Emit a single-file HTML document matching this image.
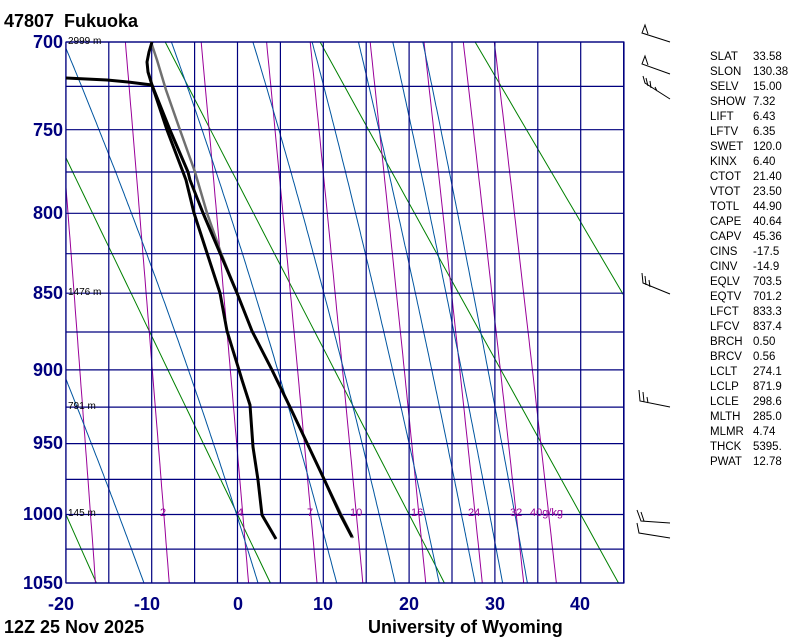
<!DOCTYPE html>
<html><head><meta charset="utf-8"><style>
html,body{margin:0;padding:0;background:#fff;}
body{width:800px;height:640px;position:relative;overflow:hidden;font-family:"Liberation Sans",sans-serif;}
.t{position:absolute;white-space:nowrap;}
.pl{position:absolute;left:0;width:63px;text-align:right;color:#00007f;font-weight:bold;font-size:18px;line-height:18px;}
.xl{position:absolute;top:595px;color:#00007f;font-weight:bold;font-size:18px;line-height:18px;}
.st{position:absolute;left:710px;font-size:11.5px;line-height:15px;color:#000;}
.st div{height:15px;}
.st span{display:inline-block;width:43px;}
</style></head><body>
<svg id="s" width="800" height="640" style="position:absolute;left:0;top:0">
<defs><clipPath id="c"><rect x="66" y="42" width="558" height="541"/></clipPath></defs>
<g id="g" clip-path="url(#c)"></g>
<g id="grid"></g>
<g id="snd"></g>
<g stroke="#000" stroke-width="1" fill="none">
<path d="M670 42 L642 33 L645 25 L648 34"/>
<path d="M670 74 L642 64 L645 56 L648 65"/>
<path d="M670 99 L645 83 L643 76 M648 86 L646 78 M651 88 L650 81 M657 91 L655 87"/>
<path d="M670 294 L643 283 L642 273 M646 285 L645 276 M650 287 L649 280"/>
<path d="M670 407 L640 401 L639 390 M644 402 L643 392 M648 403 L647 397"/>
<path d="M670 523 L641 521 L637 510 M644 521 L641 512"/>
<path d="M670 538 L639 533 L637 523"/>
</g>
</svg>
<div class="t" style="left:4px;top:11px;font-weight:bold;font-size:18px;">47807&nbsp; Fukuoka</div>
<div class="pl" style="top:33px">700</div>
<div class="pl" style="top:121px">750</div>
<div class="pl" style="top:204px">800</div>
<div class="pl" style="top:284px">850</div>
<div class="pl" style="top:361px">900</div>
<div class="pl" style="top:434px">950</div>
<div class="pl" style="top:505px">1000</div>
<div class="pl" style="top:574px">1050</div>
<div class="xl" style="left:48px">-20</div>
<div class="xl" style="left:134px">-10</div>
<div class="xl" style="left:233px">0</div>
<div class="xl" style="left:313px">10</div>
<div class="xl" style="left:399px">20</div>
<div class="xl" style="left:485px">30</div>
<div class="xl" style="left:570px">40</div>
<div class="t" style="left:4px;top:617px;font-weight:bold;font-size:18px;">12Z 25 Nov 2025</div>
<div class="t" style="left:368px;top:617px;font-weight:bold;font-size:18px;">University of Wyoming</div>
<div class="t" style="left:68px;top:36px;font-size:10px;">2999 m</div>
<div class="t" style="left:68px;top:287px;font-size:10px;">1476 m</div>
<div class="t" style="left:68px;top:401px;font-size:10px;">791 m</div>
<div class="t" style="left:68px;top:508px;font-size:10px;">145 m</div>
<div class="t" style="left:160px;top:507px;font-size:11px;color:#990099">2</div>
<div class="t" style="left:237px;top:507px;font-size:11px;color:#990099">4</div>
<div class="t" style="left:307px;top:507px;font-size:11px;color:#990099">7</div>
<div class="t" style="left:350px;top:507px;font-size:11px;color:#990099">10</div>
<div class="t" style="left:411px;top:507px;font-size:11px;color:#990099">16</div>
<div class="t" style="left:468px;top:507px;font-size:11px;color:#990099">24</div>
<div class="t" style="left:510px;top:507px;font-size:11px;color:#990099">32</div>
<div class="t" style="left:530px;top:507px;font-size:11px;color:#990099">40g/kg</div>
<div class="st" style="top:50px">
<div><span>SLAT</span>33.58</div><div><span>SLON</span>130.38</div><div><span>SELV</span>15.00</div>
<div><span>SHOW</span>7.32</div><div><span>LIFT</span>6.43</div><div><span>LFTV</span>6.35</div>
<div><span>SWET</span>120.0</div><div><span>KINX</span>6.40</div><div><span>CTOT</span>21.40</div>
<div><span>VTOT</span>23.50</div><div><span>TOTL</span>44.90</div><div><span>CAPE</span>40.64</div>
<div><span>CAPV</span>45.36</div><div><span>CINS</span>-17.5</div><div><span>CINV</span>-14.9</div>
<div><span>EQLV</span>703.5</div><div><span>EQTV</span>701.2</div><div><span>LFCT</span>833.3</div>
<div><span>LFCV</span>837.4</div><div><span>BRCH</span>0.50</div><div><span>BRCV</span>0.56</div>
<div><span>LCLT</span>274.1</div><div><span>LCLP</span>871.9</div><div><span>LCLE</span>298.6</div>
<div><span>MLTH</span>285.0</div><div><span>MLMR</span>4.74</div><div><span>THCK</span>5395.</div>
<div><span>PWAT</span>12.78</div>
</div>
<script>
(function(){
var NS="http://www.w3.org/2000/svg",k=0.286;
var a=Math.pow(700,k),b=Math.pow(1050,k);
function Y(p){return 42+541*(Math.pow(p,k)-a)/(b-a);}
function X(t){return 237.5+8.58*t;}
function path(g,d,col,w){var e=document.createElementNS(NS,"path");e.setAttribute("d",d);e.setAttribute("stroke",col);e.setAttribute("stroke-width",w);e.setAttribute("fill","none");e.setAttribute("stroke-linejoin","round");g.appendChild(e);}
var g=document.getElementById("g"),gr=document.getElementById("grid");
[-20,0,20,40,60,80].forEach(function(t){var th=t+273.15,d="";for(var p=600;p<=1050;p+=10){var T=th*Math.pow(p/1000,k)-273.15;d+=(d?"L":"M")+X(T).toFixed(1)+" "+Y(p).toFixed(1);}path(g,d,"#008000",1);});
function es(T){return 6.112*Math.exp(17.67*T/(T+243.5));}
[1,2,4,7,10,16,24,32,40].forEach(function(w){var d="";for(var p=700;p<=1050;p+=5){var e=w*p/(622+w),l=Math.log(e/6.112),Td=243.5*l/(17.67-l);d+=(d?"L":"M")+X(Td).toFixed(1)+" "+Y(p).toFixed(1);}path(g,d,"#990099",1);});
function dTdp(p,T){var Tk=T+273.15,e=es(T),rs=0.622*e/(p-e),L=2.5e6,Rd=287,cp=1004;return (Rd*Tk+L*rs)/(cp+L*L*rs*0.622/(Rd*Tk*Tk))/p;}
function moist(p0,T0){var pts=[],dir=(p0<=700)?1:-1,p=p0,T=T0;pts.push([p,T]);while((dir>0&&p<1050)||(dir<0&&p>700)){var h=dir*2;var k1=dTdp(p,T),k2=dTdp(p+h/2,T+k1*h/2),k3=dTdp(p+h/2,T+k2*h/2),k4=dTdp(p+h,T+k3*h);T+=h*(k1+2*k2+2*k3+k4)/6;p+=h;pts.push([p,T]);}var d="";pts.forEach(function(q){d+=(d?"L":"M")+X(q[1]).toFixed(1)+" "+Y(q[0]).toFixed(1);});path(g,d,"#0055a0",1);}
[-20.3,-7.7,1.8,8.7,14.1,18.1,21.6].forEach(function(t){moist(700,t);});
moist(1050,-10.9);
var d="";for(var t=-20;t<=45;t+=5){d+="M"+X(t).toFixed(1)+" 42V583";}
for(var p=700;p<=1050;p+=25){d+="M66 "+Y(p).toFixed(1)+"H624";}
path(gr,d,"#00007f",1.2);
path(gr,"M66 42H624V583H66Z","#00007f",1.2);
var s=document.getElementById("snd");
path(s,"M353 538 L341 514 L324 479 L307 443 L290 407 L272 370 L252 331 L237 293 L221 253 L207 213 L195 172 L180 130 L166 90 L157 60 L151 42","#707070",2.5);
path(s,"M352 537 L340 514 L324 479 L307 443 L290 407 L272 370 L252 331 L237 293 L220 253 L203 213 L190 180 L188 172 L170 130 L152 85 L148 72 L147 62 L149 52 L152 42","#000",3);
path(s,"M276 539 L262 515 L258 480 L253 447 L250 405 L242 380 L239 370 L227 331 L220 293 L207 253 L194 213 L186 180 L183 172 L167 130 L152 85 L128 82 L107 80 L66 78","#000",3);
})();
</script>
</body></html>
